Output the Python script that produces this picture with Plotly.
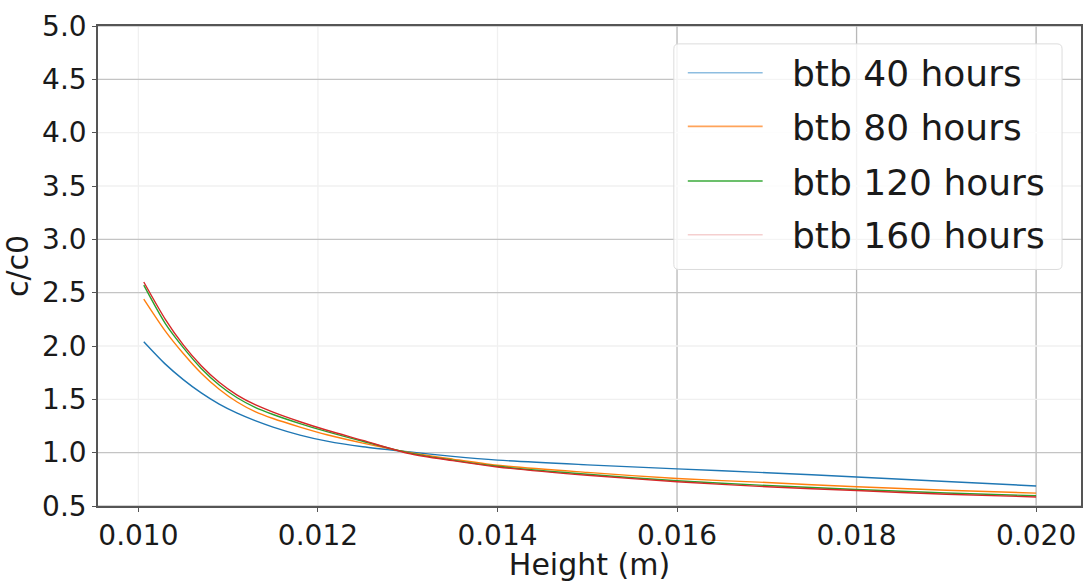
import plotly.graph_objects as go

# Height positions (m) at which each profile is sampled
height = [0.01006, 0.0103, 0.0105, 0.0107, 0.0109, 0.0111, 0.0113, 0.0115,
          0.0118, 0.0121, 0.0125, 0.0130, 0.0135, 0.0140, 0.0150, 0.0160,
          0.0170, 0.0180, 0.0190, 0.0200]

# Normalised concentration c/c0 for each back-to-back duration
btb_40 = [2.04, 1.83, 1.685, 1.56, 1.455, 1.37, 1.30, 1.24,
          1.165, 1.108, 1.055, 1.008, 0.965, 0.93, 0.886, 0.848,
          0.812, 0.772, 0.73, 0.688]
btb_80 = [2.44, 2.14, 1.93, 1.745, 1.595, 1.475, 1.385, 1.32,
          1.24, 1.168, 1.09, 1.005, 0.94, 0.882, 0.815, 0.758,
          0.72, 0.68, 0.648, 0.621]
btb_120 = [2.57, 2.21, 1.985, 1.79, 1.635, 1.515, 1.425, 1.358,
           1.273, 1.198, 1.107, 1.0, 0.93, 0.872, 0.797, 0.737,
           0.692, 0.655, 0.622, 0.596]
btb_160 = [2.60, 2.25, 2.01, 1.815, 1.66, 1.54, 1.45, 1.38,
           1.29, 1.21, 1.115, 0.995, 0.925, 0.866, 0.788, 0.728,
           0.68, 0.645, 0.61, 0.585]

series_names = ["btb 40 hours", "btb 80 hours", "btb 120 hours", "btb 160 hours"]
series_values = [btb_40, btb_80, btb_120, btb_160]
line_colors = ["#1f77b4", "#ff7f0e", "#2ca02c", "#d62728"]
legend_colors = ["#8dbde0", "#ffa35a", "#3aaa3a", "#f5cfcf"]

x_ticks = [0.010, 0.012, 0.014, 0.016, 0.018, 0.020]
y_ticks = [0.5, 1.0, 1.5, 2.0, 2.5, 3.0, 3.5, 4.0, 4.5, 5.0]
x_range = [0.00955, 0.0205]
y_range = [0.5, 5.0]

# grid line shade per tick
x_grid_dark = {0.010: False, 0.012: False, 0.014: False, 0.016: True, 0.018: True, 0.020: True}
y_grid_dark = {0.5: True, 1.0: True, 1.5: False, 2.0: False, 2.5: True, 3.0: True,
               3.5: False, 4.0: False, 4.5: True, 5.0: True}

FONT = "DejaVu Sans"
W, H = 1088, 582
ML, MR, MT, MB = 98, 5, 26, 73
PW, PH = W - ML - MR, H - MT - MB


def px_x(p):
    return (p - ML) / PW


def px_y(p):
    return (H - MB - p) / PH


fig = go.Figure()
for name, vals, col in zip(series_names, series_values, line_colors):
    fig.add_trace(go.Scatter(x=height, y=vals, mode="lines", name=name,
                             line=dict(color=col, width=1.4, shape="spline", smoothing=0.8),
                             showlegend=False))

shapes = []
for v in x_ticks:
    shapes.append(dict(type="line", xref="x", yref="paper", x0=v, x1=v, y0=0, y1=1,
                       layer="below",
                       line=dict(color="#b8b8b8" if x_grid_dark[v] else "#f0f0f0", width=1.3)))
for v in y_ticks:
    shapes.append(dict(type="line", xref="paper", yref="y", x0=0, x1=1, y0=v, y1=v,
                       layer="below",
                       line=dict(color="#c4c4c4" if y_grid_dark[v] else "#f0f0f0", width=1.3)))

# legend box
bx0, bx1, by0, by1, r = 675, 1064, 44, 271, 5
x0, x1 = px_x(bx0), px_x(bx1)
y0, y1 = px_y(by1), px_y(by0)
rx, ry = r / PW, r / PH
path = (f"M{x0+rx},{y0} L{x1-rx},{y0} Q{x1},{y0} {x1},{y0+ry} L{x1},{y1-ry} "
        f"Q{x1},{y1} {x1-rx},{y1} L{x0+rx},{y1} Q{x0},{y1} {x0},{y1-ry} "
        f"L{x0},{y0+ry} Q{x0},{y0} {x0+rx},{y0} Z")
shapes.append(dict(type="path", xref="paper", yref="paper", path=path,
                   fillcolor="rgba(255,255,255,0.82)", line=dict(color="#dcdcdc", width=1)))

annotations = []
row_y = [73, 127, 182, 236]
for ry_px, name, col in zip(row_y, series_names, legend_colors):
    shapes.append(dict(type="line", xref="paper", yref="paper",
                       x0=px_x(689), x1=px_x(764), y0=px_y(ry_px), y1=px_y(ry_px),
                       line=dict(color=col, width=1.6)))
    annotations.append(dict(xref="paper", yref="paper", x=px_x(791), y=px_y(ry_px + 1),
                            text=name, showarrow=False, xanchor="left", yanchor="middle",
                            font=dict(family=FONT, size=36, color="#1a1a1a")))

fig.update_layout(
    width=W, height=H, autosize=False,
    margin=dict(l=ML, r=MR, t=MT, b=MB, pad=0),
    paper_bgcolor="white", plot_bgcolor="white",
    shapes=shapes, annotations=annotations,
    font=dict(family=FONT, color="#1a1a1a"),
)
fig.update_xaxes(range=x_range, tickvals=x_ticks, ticktext=[f"{v:.3f}" for v in x_ticks],
                 showgrid=False, zeroline=False, ticks="outside", ticklen=4, tickwidth=1.2,
                 tickcolor="#555", showline=True, linecolor="#555", linewidth=1.5, mirror=True,
                 tickfont=dict(family=FONT, size=28, color="#1a1a1a"),
                 title=dict(text="Height (m)", font=dict(family=FONT, size=30, color="#1a1a1a"),
                            standoff=4))
fig.update_yaxes(range=y_range, tickvals=y_ticks, ticktext=[f"{v:.1f}" for v in y_ticks],
                 showgrid=False, zeroline=False, ticks="outside", ticklen=4, tickwidth=1.2,
                 tickcolor="#555", showline=True, linecolor="#555", linewidth=1.5, mirror=True,
                 tickfont=dict(family=FONT, size=28, color="#1a1a1a"),
                 title=dict(text="c/c0", font=dict(family=FONT, size=30, color="#1a1a1a"),
                            standoff=6))

fig.write_html("out.html")
